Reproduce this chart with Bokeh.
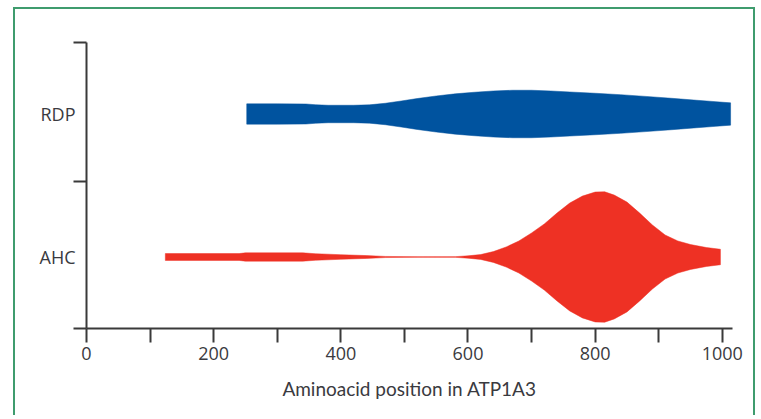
from bokeh.plotting import figure
from bokeh.models import FixedTicker, Range1d
from bokeh.embed import file_html
from bokeh.resources import INLINE

# ---- data ----
categories = ["AHC", "RDP"]
cat_centers = [0.5, 1.5]
cat_bounds = [0.0, 1.03, 2.0]

x_major = [0, 200, 400, 600, 800, 1000]
x_minor = [100, 300, 500, 700, 900]

rdp_pos = [252, 300, 345, 360, 380, 420, 445, 470, 495, 520, 550, 580, 610, 640,
           670, 700, 730, 760, 800, 840, 880, 920, 960, 990, 1013]
rdp_half = [0.071, 0.071, 0.070, 0.065, 0.061, 0.061, 0.064, 0.075, 0.091, 0.108,
            0.126, 0.141, 0.152, 0.161, 0.166, 0.166, 0.161, 0.154, 0.145, 0.135,
            0.123, 0.110, 0.096, 0.086, 0.078]

ahc_pos = [124, 240, 250, 340, 360, 400, 440, 470, 520, 580, 600, 620, 640, 660,
           680, 700, 720, 740, 760, 780, 800, 815, 830, 850, 870, 890, 910, 930,
           950, 975, 997]
ahc_half = [0.024, 0.024, 0.029, 0.029, 0.023, 0.016, 0.010, 0.004, 0.002, 0.0025,
            0.008, 0.017, 0.038, 0.070, 0.112, 0.168, 0.231, 0.307, 0.377, 0.426,
            0.454, 0.456, 0.433, 0.384, 0.307, 0.224, 0.154, 0.112, 0.087, 0.066,
            0.054]

BLUE = "#00539f"
RED = "#ee3124"
TEXT = "#3a3a40"
AXIS = "#3a3a3a"
FONT = "Open Sans"
GREEN = "2px solid #3f9c6e"

p = figure(width=742, height=408, output_backend="svg", toolbar_location=None,
           x_range=Range1d(0, 1016), y_range=Range1d(0, 2.0),
           min_border_left=71, min_border_right=25, min_border_top=33,
           min_border_bottom=89)

p.styles = {"border-top": GREEN, "border-left": GREEN, "border-right": GREEN,
            "margin-left": "13px", "margin-top": "7px"}

p.outline_line_color = None
p.xgrid.grid_line_color = None
p.ygrid.grid_line_color = None
p.background_fill_color = "white"
p.border_fill_color = "white"


def violin(pos, half, center, color):
    xs = list(pos) + list(pos[::-1])
    ys = [center + h for h in half] + [center - h for h in half[::-1]]
    p.patch(xs, ys, fill_color=color, line_color=color, line_width=0.5)


violin(rdp_pos, rdp_half, cat_centers[1], BLUE)
violin(ahc_pos, ahc_half, cat_centers[0], RED)

# x axis
xa = p.xaxis[0]
xa.ticker = FixedTicker(ticks=x_major, minor_ticks=x_minor)
xa.axis_label = "Aminoacid position in ATP1A3"
xa.axis_label_text_font = "Lato"
xa.axis_label_text_font_style = "normal"
xa.axis_label_text_font_size = "19px"
xa.axis_label_text_color = TEXT
xa.axis_label_standoff = 14
xa.major_label_text_font = FONT
xa.major_label_text_font_size = "18px"
xa.major_label_text_color = TEXT
xa.major_label_standoff = 4
xa.axis_line_color = AXIS
xa.axis_line_width = 2
xa.major_tick_line_color = AXIS
xa.major_tick_line_width = 2
xa.minor_tick_line_color = AXIS
xa.minor_tick_line_width = 2
xa.major_tick_in = 0
xa.major_tick_out = 14
xa.minor_tick_in = 0
xa.minor_tick_out = 14

# y axis
ya = p.yaxis[0]
ya.ticker = FixedTicker(ticks=cat_centers, minor_ticks=cat_bounds)
ya.major_label_overrides = {c: n for c, n in zip(cat_centers, categories)}
ya.major_label_text_font = FONT
ya.major_label_text_font_size = "18px"
ya.major_label_text_color = TEXT
ya.major_label_standoff = -2
ya.major_tick_in = 0
ya.major_tick_out = 0
ya.minor_tick_in = 0
ya.minor_tick_out = 13
ya.minor_tick_line_color = AXIS
ya.minor_tick_line_width = 2
ya.axis_line_color = AXIS
ya.axis_line_width = 2

open("out.html", "w").write(file_html(p, INLINE))
